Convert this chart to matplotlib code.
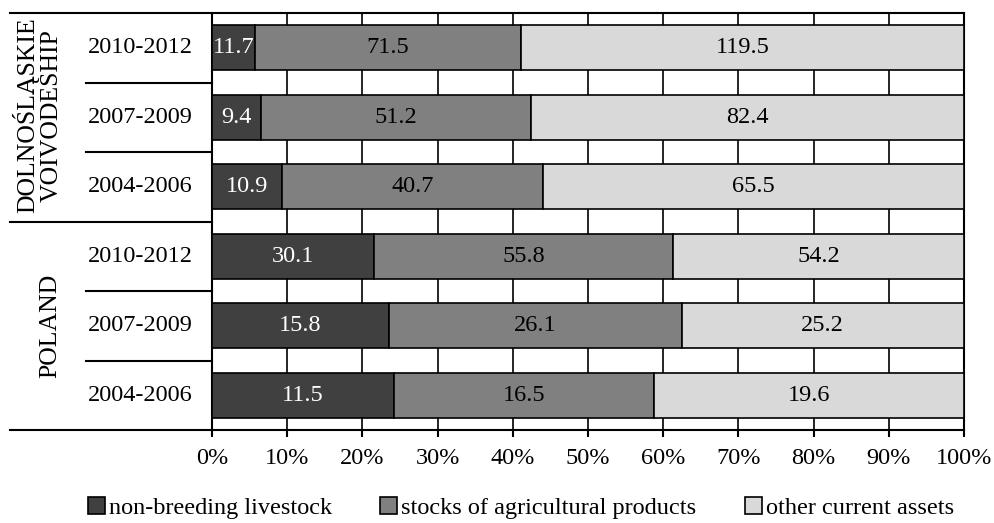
import matplotlib.pyplot as plt
import numpy as np
from matplotlib.patches import Patch

plt.rcParams['font.family'] = ['Liberation Serif', 'DejaVu Serif']
plt.rcParams['font.size'] = 17

# rows listed top to bottom
groups = ["DOLNOŚLĄSKIE\nVOIVODESHIP", "POLAND"]
periods = ["2010-2012", "2007-2009", "2004-2006",
           "2010-2012", "2007-2009", "2004-2006"]
livestock = [11.7, 9.4, 10.9, 30.1, 15.8, 11.5]
stocks = [71.5, 51.2, 40.7, 55.8, 26.1, 16.5]
other = [119.5, 82.4, 65.5, 54.2, 25.2, 19.6]

series = [
    ("non-breeding livestock", livestock, "#404040", "white"),
    ("stocks of agricultural products", stocks, "#808080", "black"),
    ("other current assets", other, "#d9d9d9", "black"),
]

vals = np.array([livestock, stocks, other], dtype=float)
shares = vals / vals.sum(axis=0) * 100

fig = plt.figure(figsize=(9.94, 5.23), dpi=100)
ax = fig.add_axes([0.2133, 0.1778, 0.7565, 0.7973])

n = len(periods)
y = np.arange(n)[::-1]
left = np.zeros(n)
for i, (name, raw, color, tcol) in enumerate(series):
    ax.barh(y, shares[i], left=left, height=0.65, color=color,
            edgecolor="black", linewidth=1.2, zorder=3)
    for yy, l, w, v in zip(y, left, shares[i], raw):
        ax.text(l + w / 2, yy, f"{v:.1f}", ha="center", va="center",
                color=tcol, fontsize=17.5, zorder=4)
    left += shares[i]

ax.set_xlim(0, 100)
ax.set_ylim(-0.5, n - 0.5)
ax.set_xticks(np.arange(0, 101, 10))
ax.set_xticklabels([f"{t}%" for t in range(0, 101, 10)], fontsize=17.5)
ax.tick_params(axis="x", direction="out", length=5, width=1.5, pad=8)
ax.set_yticks([])
ax.grid(axis="x", color="black", linewidth=1.2, zorder=0)
for s in ax.spines.values():
    s.set_linewidth(1.5)
ax.spines["top"].set_visible(False)
ax.spines["bottom"].set_visible(False)

# period labels and separators on the left
trans = ax.get_yaxis_transform()
for yy, p in zip(y, periods):
    ax.text(-0.0957, yy, p, transform=trans, ha="center", va="center",
            fontsize=17.5)
for b in np.arange(n + 1) - 0.5:
    is_long = b in (-0.5, 2.5, n - 0.5)
    x0 = -0.2686 if is_long else -0.1676
    x1 = 1.0 if b in (-0.5, n - 0.5) else 0.0
    ax.plot([x0, x1], [b, b], transform=trans, color="black",
            linewidth=1.5, clip_on=False, zorder=5)

ax.text(-0.232, 4.03, groups[0], transform=trans, rotation=90, ha="center",
        va="center", multialignment="center", fontsize=18.5, linespacing=1.1)
ax.text(-0.215, 1, groups[1], transform=trans, rotation=90, ha="center",
        va="center", fontsize=18.5)

handles = [Patch(facecolor=c, edgecolor="black", linewidth=1.2)
           for _, _, c, _ in series]
fig.legend(handles, [s[0] for s in series], loc="lower center",
           bbox_to_anchor=(0.524, -0.035), ncol=3, frameon=False,
           handlelength=0.7, handleheight=0.7, handletextpad=0.15,
           columnspacing=2.0, fontsize=17.5)

fig.savefig("out.png", dpi=100)
